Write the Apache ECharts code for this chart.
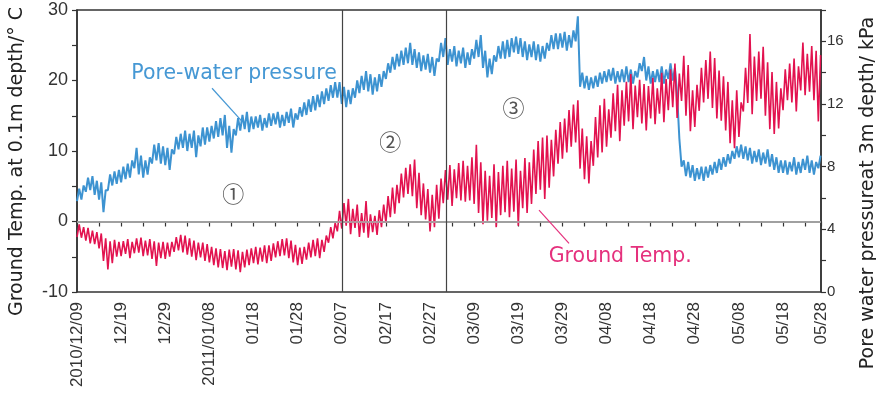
<!DOCTYPE html>
<html><head><meta charset="utf-8">
<script src="https://cdn.jsdelivr.net/npm/echarts@6/dist/echarts.min.js"></script>
<style>html,body{margin:0;padding:0;background:#fff}#c{width:876px;height:399px}</style>
</head><body><div id="c"></div>
<script>
// x axis: days since 2010/12/09 ; tick labels every 10 days, last label at axis end
const dateLabels = ['2010/12/09','12/19','12/29','2011/01/08','01/18','01/28','02/07','02/17','02/27',
  '03/09','03/19','03/29','04/08','04/18','04/28','05/08','05/18','05/28'];
const axisEndDay = 168.6;
const phaseBounds = [60, 83.6];

// Ground temperature at 0.1 m (°C): first (low) and second (high) reading of each day
const tempLow = [
  -2.2,-2.3,-2.7,-3.1,-3.2,-3.8,-5.6,-6.8,-5.9,-5.0,
  -4.9,-4.6,-5.2,-4.5,-4.4,-4.9,-4.8,-5.3,-6.3,-5.2,
  -5.3,-5.0,-4.3,-4.1,-4.4,-4.7,-5.0,-5.5,-5.1,-5.6,
  -5.8,-6.2,-6.5,-6.6,-6.9,-6.4,-6.8,-7.2,-6.5,-6.2,
  -5.9,-6.1,-5.7,-5.9,-5.6,-5.1,-4.9,-4.8,-5.2,-5.8,
  -6.2,-6.0,-5.4,-5.1,-4.9,-5.2,-4.3,-3.0,-2.4,
  -1.4,-1.0,-0.6,-1.8,-0.9,-2.2,-1.6,-2.3,-1.5,-1.9,
  -0.8,-0.2,0.6,1.1,2.6,3.4,3.9,3.6,1.9,0.9,
  0.3,-1.4,-0.8,0.4,2.6,3.1,2.2,3.3,3.0,2.8,
  3.0,2.5,1.2,-0.4,0.1,0.5,-0.8,0.9,1.3,0.6,
  1.4,-0.6,1.9,1.2,2.5,3.9,4.5,3.2,4.8,6.4,
  8.2,8.9,9.8,10.6,11.2,7.5,6.0,5.4,7.9,9.1,
  9.8,10.6,11.9,12.8,11.4,13.6,14.2,13.1,14.8,13.9,
  12.9,14.6,13.8,15.3,14.1,15.8,16.2,14.7,17.1,15.0,
  12.8,13.4,15.7,16.9,17.4,16.1,14.6,14.3,12.9,
  11.1,10.4,12.0,15.6,16.8,15.2,17.1,17.4,15.0,13.1,
  12.4,13.2,15.8,17.2,16.9,15.6,18.6,17.9,18.4,17.2,14.2
];
const tempHigh = [
  -0.4,-0.8,-0.9,-1.3,-1.5,-1.7,-2.4,-2.8,-2.6,-2.9,
  -2.8,-2.5,-2.9,-2.4,-2.3,-2.7,-2.5,-2.8,-3.0,-2.9,
  -3.0,-2.9,-2.2,-1.9,-2.0,-2.4,-2.7,-3.0,-3.0,-3.2,
  -3.6,-3.8,-3.9,-4.2,-4.0,-3.9,-4.1,-4.3,-4.0,-3.8,
  -3.6,-3.7,-3.4,-3.4,-3.1,-2.8,-2.5,-2.4,-2.7,-3.3,
  -3.7,-3.6,-3.0,-2.6,-2.4,-2.6,-2.0,-0.8,-0.2,
  1.5,2.6,3.2,1.8,2.4,1.2,2.9,1.0,0.8,1.6,
  2.4,3.6,4.8,5.2,6.8,7.6,8.1,8.8,6.9,5.4,
  4.6,3.8,5.2,6.1,7.3,8.0,7.4,8.3,8.6,7.9,
  9.1,10.9,8.4,7.2,6.5,8.1,7.0,7.9,8.6,7.5,
  8.8,7.2,9.0,8.4,10.2,11.4,11.9,12.2,11.6,13.0,
  14.1,14.6,15.8,16.6,17.2,13.2,12.1,11.4,14.8,16.5,
  17.4,15.9,18.2,19.4,18.6,19.8,20.9,19.3,20.1,19.5,
  19.2,20.4,18.9,21.1,20.2,21.6,22.4,21.0,23.5,22.2,
  18.6,19.4,21.8,22.9,24.1,23.2,21.4,20.6,19.8,
  17.2,18.6,16.9,21.8,26.6,23.4,24.1,24.8,22.6,21.2,
  19.8,18.9,21.6,22.4,23.1,22.0,25.4,23.8,24.9,24.2,23.6
];
// Pore-water pressure at 3 m (kPa): first and second reading of each day
const pressA = [
  5.8,5.9,6.4,6.5,6.2,5.9,5.1,6.5,6.8,6.9,
  7.0,7.2,7.3,7.9,7.5,7.3,7.5,8.2,8.4,8.2,
  8.1,7.8,8.8,9.1,9.2,9.0,9.2,8.6,9.3,9.4,
  9.6,9.8,9.9,10.0,9.2,8.9,10.0,10.3,10.4,10.2,
  10.4,10.5,10.3,10.5,10.6,10.7,10.5,10.6,10.8,10.5,
  11.0,11.2,11.3,11.5,11.6,11.8,12.0,12.2,12.4,
  12.4,12.0,11.8,12.0,12.4,12.7,12.9,12.8,12.6,12.8,
  13.1,13.6,14.0,14.2,14.4,14.5,14.6,14.5,14.3,14.1,
  14.2,14.0,13.8,14.7,15.0,14.5,14.7,14.4,14.6,14.3,
  14.5,14.9,15.0,14.3,13.7,13.9,14.7,14.9,14.9,15.0,
  15.3,15.2,15.0,14.8,15.0,14.8,14.7,14.9,15.4,15.5,
  15.5,15.6,15.4,15.6,16.0,13.1,13.0,12.9,13.0,13.1,
  13.3,13.4,13.5,13.3,13.4,13.4,13.4,13.3,13.7,14.1,
  13.5,13.3,13.4,13.4,13.3,13.6,13.5,12.6,8.0,7.4,
  7.3,7.1,7.2,7.1,7.3,7.5,7.6,7.8,8.0,
  8.2,8.5,8.6,8.5,8.4,8.2,8.3,8.1,8.2,8.0,
  7.8,7.6,7.6,7.5,7.7,7.5,7.6,7.8,7.6,7.5,7.9
];
const pressB = [
  6.6,6.8,7.3,7.4,7.1,7.0,6.5,7.5,7.7,7.8,
  8.0,8.2,8.4,9.2,8.7,8.4,8.6,9.4,9.5,9.3,
  9.2,9.1,9.9,10.1,10.3,10.1,10.3,10.0,10.5,10.5,
  10.6,10.9,11.1,11.3,10.6,10.4,11.1,11.3,11.5,11.2,
  11.2,11.3,11.1,11.4,11.4,11.5,11.3,11.5,11.7,11.4,
  11.8,12.1,12.3,12.5,12.6,12.8,13.0,13.2,13.4,
  13.4,13.1,12.9,13.0,13.5,13.8,14.1,13.9,13.7,13.9,
  14.1,14.6,15.0,15.2,15.4,15.6,15.9,15.5,15.3,15.1,
  15.2,15.0,14.9,15.9,16.2,15.5,15.7,15.4,15.6,15.3,
  15.5,16.1,16.4,15.4,14.9,15.1,15.7,16.0,16.1,16.2,
  16.3,16.2,16.0,15.8,16.0,15.8,15.7,15.9,16.4,16.5,
  16.5,16.6,16.4,16.7,17.6,14.0,13.8,13.7,13.8,14.0,
  14.1,14.2,14.3,14.1,14.2,14.4,14.2,14.1,14.6,15.0,
  14.4,14.1,14.2,14.4,14.2,14.6,14.3,9.8,8.4,8.3,
  8.1,7.9,8.0,8.0,8.1,8.3,8.5,8.6,8.8,
  9.0,9.3,9.4,9.3,9.2,9.0,9.1,8.9,9.1,8.8,
  8.6,8.4,8.4,8.3,8.6,8.3,8.5,8.7,8.4,8.3,8.7
];

// annotations, anchored in (day, °C) coordinates of the left axis
const phaseMarks = [
  {text:'①', day:35.4, temp:4.0},
  {text:'②', day:71.0, temp:11.3},
  {text:'③', day:98.9, temp:16.1}
];
const seriesNotes = [
  {text:'Pore-water pressure', day:12.3, temp:20.9, from:[30.6,18.9], to:[37.4,14.2], color:'#4698d4'},
  {text:'Ground Temp.', day:106.9, temp:-5.0, from:[104.7,1.6], to:[111.5,-3.1], color:'#e5317d'}
];

function pairSeries(first, second) {
  const out = [];
  const n = Math.min(first.length, second.length);
  for (let i = 0; i < n; i++) { out.push([i, first[i]]); out.push([i + 0.5, second[i]]); }
  return out;
}

const chart = echarts.init(document.getElementById('c'), null, {renderer:'canvas'});
const axisColor = '#333';
const option = {
  animation: false,
  backgroundColor: '#fff',
  grid: {left:77, right:55, top:10, bottom:107, outerBoundsMode:'none', containLabel:false,
    show:true, borderColor:axisColor, borderWidth:1.5, backgroundColor:'transparent'},
  xAxis: {
    type:'value', min:0, max:axisEndDay, interval:5,
    axisLine:{lineStyle:{color:axisColor, width:1.5}},
    axisTick:{show:true, length:5, lineStyle:{color:axisColor, width:1.2}},
    splitLine:{show:false},
    axisLabel:{
      rotate:90, margin:10, fontFamily:'Liberation Sans', fontSize:17, color:'#333',
      showMinLabel:true, showMaxLabel:true, hideOverlap:false,
      formatter: v => {
        if (v >= axisEndDay - 0.01) return dateLabels[dateLabels.length - 1];
        if (Math.abs(v % 10) < 1e-6) return dateLabels[Math.round(v / 10)] || '';
        return '';
      }
    }
  },
  yAxis: [
    {
      type:'value', min:-10, max:30, interval:5, position:'left',
      name:'Ground Temp. at 0.1m depth/° C', nameLocation:'middle', nameGap:50, nameRotate:90,
      nameTextStyle:{fontFamily:'DejaVu Sans', fontSize:19, color:'#222', padding:[0,21,0,0]},
      axisLine:{show:true, lineStyle:{color:axisColor, width:1.5}},
      axisTick:{show:true, length:5, lineStyle:{color:axisColor, width:1.2}},
      splitLine:{show:false},
      axisLabel:{margin:9, fontFamily:'Liberation Sans', fontSize:18, color:'#333',
        formatter: v => (v % 10 === 0 ? String(v) : '')}
    },
    {
      type:'value', min:0, max:18, interval:2, position:'right',
      name:'Pore water pressureat 3m depth/ kPa', nameLocation:'middle', nameGap:38, nameRotate:90,
      nameTextStyle:{fontFamily:'DejaVu Sans', fontSize:19, color:'#222', padding:[0,84,0,0]},
      axisLine:{show:true, lineStyle:{color:axisColor, width:1.5}},
      axisTick:{show:true, length:5, lineStyle:{color:axisColor, width:1.2}},
      splitLine:{show:false},
      axisLabel:{margin:6, fontFamily:'Liberation Sans', fontSize:15, color:'#333',
        formatter: v => (v % 4 === 0 && v <= 16 ? String(v) : '')}
    }
  ],
  series: [
    {
      name:'Pore-water pressure', type:'line', yAxisIndex:1, data:pairSeries(pressA, pressB),
      symbol:'none', lineStyle:{color:'#3d93d1', width:2.0}, z:2
    },
    {
      name:'Ground Temp.', type:'line', yAxisIndex:0, data:pairSeries(tempLow, tempHigh),
      symbol:'none', lineStyle:{color:'#e2124f', width:1.6}, z:3,
      markLine:{
        silent:true, symbol:'none', label:{show:false}, animation:false,
        data:[
          {yAxis:0, lineStyle:{color:'#b5b5b5', width:1.5, type:'solid'}},
          {xAxis:phaseBounds[0], lineStyle:{color:'#444', width:1.2, type:'solid'}},
          {xAxis:phaseBounds[1], lineStyle:{color:'#444', width:1.2, type:'solid'}}
        ]
      }
    }
  ]
};
chart.setOption(option);

const toPx = (d, t) => chart.convertToPixel({xAxisIndex:0, yAxisIndex:0}, [d, t]);
const graphics = [];
phaseMarks.forEach(m => {
  const p = toPx(m.day, m.temp);
  graphics.push({type:'text', x:p[0], y:p[1], z:10,
    style:{text:m.text, fontFamily:'Noto Sans CJK SC', fontSize:22, fill:'#555', textAlign:'center', textVerticalAlign:'middle'}});
});
seriesNotes.forEach(n => {
  const p = toPx(n.day, n.temp);
  const a = toPx(n.from[0], n.from[1]);
  const b = toPx(n.to[0], n.to[1]);
  graphics.push({type:'text', x:p[0], y:p[1], z:10,
    style:{text:n.text, fontFamily:'DejaVu Sans', fontSize:20.5, fill:n.color, textAlign:'left', textVerticalAlign:'middle'}});
  graphics.push({type:'line', z:10, shape:{x1:a[0], y1:a[1], x2:b[0], y2:b[1]},
    style:{stroke:n.color, lineWidth:1.2}});
});
chart.setOption({graphic: graphics});
</script>
</body></html>
